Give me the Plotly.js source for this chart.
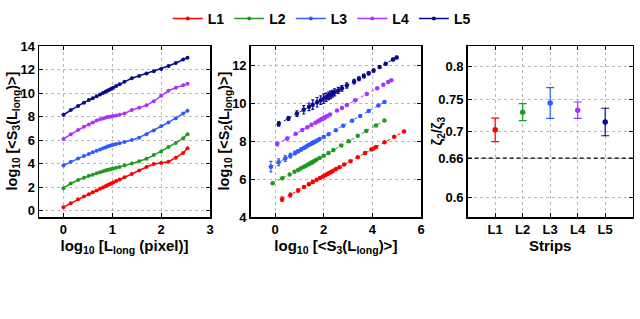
<!DOCTYPE html>
<html>
<head>
<meta charset="utf-8">
<script src="https://cdn.plot.ly/plotly-3.0.1.min.js"></script>
<style>html,body{margin:0;padding:0;background:#fff}#chart{width:640px;height:319px}</style>
</head>
<body>
<div id="chart"></div>
<script>
// ---------- data ----------
const seriesNames = ["L1", "L2", "L3", "L4", "L5"];
const seriesColors = ["#ff0000", "#1e9a1e", "#2f5bff", "#a733ff", "#0a0a8c"];

// Panel 1: log10 L (pixel) vs log10 <S3>
const logL = [0, 0.15, 0.3, 0.42, 0.52, 0.6, 0.68, 0.75, 0.81, 0.86, 0.9, 0.94, 0.98, 1.02, 1.08, 1.15, 1.25, 1.4, 1.55, 1.7, 1.85, 2.0, 2.15, 2.3, 2.45, 2.54];
const s3_L1 = [0.29, 0.63, 0.95, 1.19, 1.39, 1.55, 1.71, 1.85, 1.97, 2.07, 2.15, 2.23, 2.31, 2.39, 2.51, 2.65, 2.84, 3.1, 3.4, 3.7, 3.96, 4.05, 4.15, 4.5, 4.9, 5.3];
const s3_L2 = [1.9, 2.3, 2.6, 2.8, 2.95, 3.05, 3.17, 3.26, 3.34, 3.4, 3.45, 3.5, 3.53, 3.57, 3.63, 3.7, 3.83, 4.0, 4.2, 4.4, 4.72, 5.03, 5.4, 5.75, 6.15, 6.5];
const s3_L3 = [3.83, 4.15, 4.42, 4.63, 4.82, 4.95, 5.08, 5.2, 5.29, 5.37, 5.45, 5.5, 5.56, 5.6, 5.66, 5.73, 5.83, 6.0, 6.2, 6.5, 6.8, 7.17, 7.5, 7.85, 8.25, 8.5];
const s3_L4 = [6.09, 6.5, 6.85, 7.12, 7.33, 7.5, 7.66, 7.77, 7.84, 7.9, 7.95, 7.98, 8.01, 8.04, 8.08, 8.15, 8.26, 8.55, 8.75, 8.95, 9.3, 9.77, 10.2, 10.45, 10.65, 10.78];
const s3_L5 = [8.15, 8.55, 8.9, 9.18, 9.4, 9.55, 9.73, 9.88, 10.0, 10.1, 10.2, 10.28, 10.36, 10.45, 10.6, 10.75, 10.95, 11.25, 11.45, 11.65, 11.85, 12.05, 12.3, 12.55, 12.85, 13.0];

// Panel 2: log10 <S3> vs log10 <S2> (shifted curves)
const p2x_L1 = [0.29, 0.63, 0.95, 1.19, 1.39, 1.55, 1.71, 1.85, 1.97, 2.07, 2.15, 2.23, 2.31, 2.39, 2.51, 2.65, 2.84, 3.1, 3.4, 3.7, 3.96, 4.05, 4.15, 4.5, 4.9, 5.3];
const p2y_L1 = [4.94, 5.16, 5.40, 5.58, 5.72, 5.84, 5.96, 6.05, 6.13, 6.2, 6.26, 6.32, 6.37, 6.43, 6.52, 6.62, 6.76, 6.94, 7.15, 7.37, 7.55, 7.6, 7.68, 7.93, 8.22, 8.5];
const p2e_L1 = [0.12, 0.1, 0.08, 0.07, 0.06, 0.05, 0.05, 0.04, 0.04, 0.04, 0.04, 0.03, 0.03, 0.03, 0.03, 0.03, 0.03, 0.03, 0.03, 0.03, 0.03, 0.03, 0.03, 0.03, 0.03, 0.03];
const p2x_L2 = [-0.1, 0.3, 0.6, 0.8, 0.95, 1.05, 1.17, 1.26, 1.34, 1.4, 1.45, 1.5, 1.53, 1.57, 1.63, 1.7, 1.83, 2.0, 2.2, 2.4, 2.72, 3.03, 3.4, 3.75, 4.15, 4.5];
const p2y_L2 = [5.77, 6.04, 6.24, 6.38, 6.48, 6.55, 6.63, 6.69, 6.75, 6.79, 6.83, 6.86, 6.88, 6.91, 6.96, 7.01, 7.1, 7.22, 7.37, 7.52, 7.76, 7.99, 8.27, 8.53, 8.82, 9.08];
const p2e_L2 = [0.06, 0.05, 0.04, 0.04, 0.03, 0.03, 0.03, 0.03, 0.03, 0.03, 0.03, 0.03, 0.03, 0.03, 0.03, 0.03, 0.03, 0.03, 0.03, 0.03, 0.03, 0.03, 0.03, 0.03, 0.03, 0.03];
const p2x_L3 = [-0.17, 0.15, 0.42, 0.63, 0.82, 0.95, 1.08, 1.2, 1.29, 1.37, 1.45, 1.5, 1.56, 1.6, 1.66, 1.73, 1.83, 2.0, 2.2, 2.5, 2.8, 3.17, 3.5, 3.85, 4.25, 4.5];
const p2y_L3 = [6.65, 6.88, 7.08, 7.23, 7.37, 7.46, 7.56, 7.65, 7.71, 7.77, 7.83, 7.87, 7.91, 7.94, 7.98, 8.03, 8.1, 8.21, 8.35, 8.57, 8.8, 9.07, 9.32, 9.58, 9.87, 10.05];
const p2e_L3 = [0.28, 0.18, 0.15, 0.12, 0.1, 0.09, 0.08, 0.07, 0.06, 0.06, 0.05, 0.05, 0.05, 0.05, 0.04, 0.04, 0.04, 0.04, 0.04, 0.03, 0.03, 0.03, 0.03, 0.03, 0.03, 0.03];
const p2x_L4 = [0.09, 0.5, 0.85, 1.12, 1.33, 1.5, 1.66, 1.77, 1.84, 1.9, 1.95, 1.98, 2.01, 2.04, 2.08, 2.15, 2.26, 2.55, 2.75, 2.95, 3.3, 3.77, 4.2, 4.45, 4.65, 4.78];
const p2y_L4 = [7.84, 8.13, 8.38, 8.58, 8.73, 8.85, 8.96, 9.04, 9.09, 9.14, 9.17, 9.19, 9.21, 9.24, 9.26, 9.31, 9.39, 9.6, 9.74, 9.89, 10.14, 10.47, 10.78, 10.96, 11.1, 11.2];
const p2e_L4 = [0.1, 0.07, 0.05, 0.05, 0.04, 0.04, 0.04, 0.04, 0.03, 0.03, 0.03, 0.03, 0.03, 0.03, 0.03, 0.03, 0.03, 0.03, 0.03, 0.03, 0.03, 0.03, 0.03, 0.03, 0.03, 0.03];
const p2x_L5 = [0.15, 0.55, 0.9, 1.18, 1.4, 1.55, 1.73, 1.88, 2.0, 2.1, 2.2, 2.28, 2.36, 2.45, 2.6, 2.75, 2.95, 3.25, 3.45, 3.65, 3.85, 4.05, 4.3, 4.55, 4.85, 5.0];
const p2y_L5 = [8.9, 9.19, 9.44, 9.64, 9.8, 9.91, 10.04, 10.15, 10.23, 10.3, 10.38, 10.43, 10.49, 10.56, 10.66, 10.77, 10.92, 11.13, 11.28, 11.42, 11.56, 11.71, 11.89, 12.07, 12.29, 12.4];
const p2e_L5 = [0.12, 0.1, 0.15, 0.22, 0.2, 0.25, 0.25, 0.22, 0.25, 0.22, 0.2, 0.2, 0.18, 0.18, 0.16, 0.15, 0.14, 0.12, 0.1, 0.1, 0.08, 0.08, 0.07, 0.06, 0.06, 0.06];

// Panel 3: zeta2/zeta3 per strip
const stripPos = [1, 2, 3, 4, 5];
const zetaRatio = [0.703, 0.730, 0.744, 0.733, 0.715];
const zetaErr = [0.018, 0.013, 0.0235, 0.0125, 0.021];
const k41Ref = 0.66;

// ---------- traces ----------
const s3 = [s3_L1, s3_L2, s3_L3, s3_L4, s3_L5];
const p2x = [p2x_L1, p2x_L2, p2x_L3, p2x_L4, p2x_L5];
const p2y = [p2y_L1, p2y_L2, p2y_L3, p2y_L4, p2y_L5];
const p2e = [p2e_L1, p2e_L2, p2e_L3, p2e_L4, p2e_L5];

const traces = [];
for (let i = 0; i < 5; i++) {
  traces.push({
    x: logL, y: s3[i], xaxis: 'x', yaxis: 'y', type: 'scatter', mode: 'lines+markers',
    name: seriesNames[i], showlegend: true,
    line: {color: seriesColors[i], width: 1.5},
    marker: {color: seriesColors[i], size: 4}
  });
}
for (let i = 0; i < 5; i++) {
  traces.push({
    x: p2x[i], y: p2y[i], xaxis: 'x2', yaxis: 'y2', type: 'scatter', mode: 'lines+markers',
    showlegend: false,
    line: {color: seriesColors[i], width: 1, dash: '3px,3px'},
    marker: {color: seriesColors[i], size: 4.5},
    error_y: {type: 'data', array: p2e[i], visible: true, color: seriesColors[i], thickness: 1.2, width: 1.5}
  });
}
for (let i = 0; i < 5; i++) {
  traces.push({
    x: [stripPos[i]], y: [zetaRatio[i]], xaxis: 'x3', yaxis: 'y3', type: 'scatter', mode: 'markers',
    showlegend: false,
    marker: {color: seriesColors[i], size: 5.5},
    error_y: {type: 'data', array: [zetaErr[i]], visible: true, color: seriesColors[i], thickness: 1.2, width: 4}
  });
}

// ---------- layout ----------
const FONT = 'Liberation Sans, Arial, sans-serif';
function ax(extra) {
  return Object.assign({
    showline: true, linecolor: '#000', linewidth: 1.5, mirror: 'allticks',
    ticks: 'inside', ticklen: 4, tickwidth: 1, tickcolor: '#000',
    showgrid: true, gridcolor: '#b8b8b8', griddash: 'dot', gridwidth: 1,
    zeroline: false,
    tickfont: {family: FONT, size: 13, color: '#000', weight: 'bold'}
  }, extra);
}
const titleFont = {family: FONT, size: 15, color: '#000', weight: 'bold'};
const yTitleFont = {family: FONT, size: 14.5, color: '#000', weight: 'bold'};
const yTop = 1 - 46 / 319, yBot = 1 - 217 / 319;
const yMid = (yTop + yBot) / 2;

function yTitle(text, px) {
  return {text: text, xref: 'paper', yref: 'paper', x: px / 640, y: yMid,
    xanchor: 'center', yanchor: 'middle', textangle: -90, showarrow: false, font: yTitleFont};
}

const layout = {
  width: 640, height: 319,
  margin: {l: 0, r: 0, t: 0, b: 0},
  paper_bgcolor: '#fff', plot_bgcolor: '#fff',
  font: {family: FONT, color: '#000'},
  showlegend: true,
  legend: {
    orientation: 'h', x: 0.262, xanchor: 'left', y: 1 - 19 / 319, yanchor: 'middle',
    font: {family: FONT, size: 14, color: '#000', weight: 'bold'},
    bgcolor: 'rgba(0,0,0,0)', itemwidth: 30, tracegroupgap: 0
  },
  xaxis: ax({domain: [39 / 640, 210 / 640], range: [-0.5, 3], tickvals: [0, 1, 2, 3], anchor: 'y',
    title: {text: 'log<sub>10</sub> [L<sub>long</sub> (pixel)]', font: titleFont, standoff: 3}}),
  yaxis: ax({domain: [yBot, yTop], range: [-0.55, 14], tickvals: [0, 2, 4, 6, 8, 10, 12, 14], anchor: 'x'}),
  xaxis2: ax({domain: [250.7 / 640, 421 / 640], range: [-1, 6], tickvals: [0, 2, 4, 6], anchor: 'y2',
    title: {text: 'log<sub>10</sub> [&lt;S<sub>3</sub>(L<sub>long</sub>)&gt;]', font: titleFont, standoff: 3}}),
  yaxis2: ax({domain: [yBot, yTop], range: [4, 13], tickvals: [4, 6, 8, 10, 12], anchor: 'x2'}),
  xaxis3: ax({domain: [467.7 / 640, 632.7 / 640], range: [0, 6], tickvals: stripPos, ticktext: seriesNames, anchor: 'y3',
    title: {text: 'Strips', font: titleFont, standoff: 1}}),
  yaxis3: ax({domain: [yBot, yTop], range: [0.57, 0.831], tickvals: [0.6, 0.66, 0.7, 0.75, 0.8],
    ticktext: ['0.6', '0.66', '0.7', '0.75', '0.8'], anchor: 'x3'}),
  annotations: [
    yTitle('log<sub>10</sub> [&lt;S<sub>3</sub>(L<sub>long</sub>)&gt;]', 12),
    yTitle('log<sub>10</sub> [&lt;S<sub>2</sub>(L<sub>long</sub>)&gt;]', 224),
    yTitle('ζ<sub>2</sub>/ζ<sub>3</sub>', 437)
  ],
  shapes: [{
    type: 'line', xref: 'x3 domain', yref: 'y3', x0: 0, x1: 1, y0: k41Ref, y1: k41Ref,
    line: {color: '#000', width: 1.2, dash: '4px,3px'}
  }]
};

Plotly.newPlot('chart', traces, layout, {displayModeBar: false, staticPlot: true});
</script>
</body>
</html>
